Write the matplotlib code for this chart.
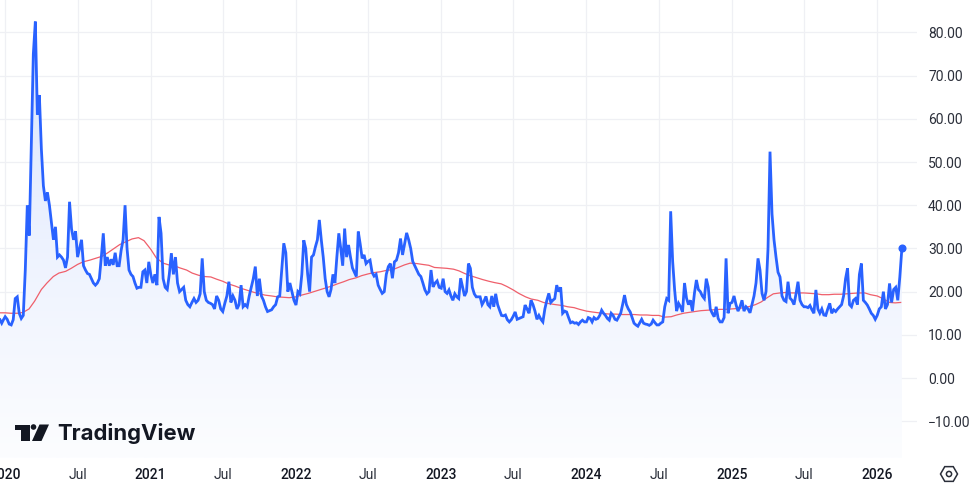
import numpy as np
import pandas as pd
import matplotlib
matplotlib.use("Agg")
import matplotlib.pyplot as plt
import matplotlib.dates as mdates
from matplotlib.colors import LinearSegmentedColormap
from matplotlib.patches import Polygon, Circle, RegularPolygon

plt.rcParams['font.family'] = ['Roboto', 'DejaVu Sans']

# blue line, one list per half year
v_2019 = [13.5, 12.7, 13.5]
v_2020a = [14.2, 13.6, 12.5, 12.3, 13.5, 18.4, 18.8, 15, 13.8, 14.5, 25, 40, 33, 54, 75, 82.5, 61, 65.5,
           53, 44.5, 41, 43, 40, 36, 32, 35, 28, 28.5, 28, 27.3, 25.5, 28, 40.8, 34.5, 32, 34]
v_2020b = [28, 30, 32, 26, 25, 24.2, 24, 23, 22, 21.5, 22, 23, 28, 33.5, 26, 28, 26, 27.5, 26.2,
           29, 26, 26, 29.5, 32, 40, 30, 25, 24, 23.5, 22, 20.8, 21, 21, 24.6, 25, 22, 26.9]
v_2021a = [24, 22, 24, 21.5, 37.3, 33.5, 23, 21, 20.5, 24, 28.9, 24, 28, 22, 20, 20.5, 21, 18, 17,
           16.5, 17.5, 18.4, 17.5, 18, 19.5, 27.7, 20, 18, 17.5, 17.3, 17, 16, 19, 18, 16]
v_2021b = [15.4, 17.3, 19, 22.3, 17.5, 19, 18, 16, 17, 21.5, 16.5, 17, 16.5, 19, 21, 23, 25.8, 19,
           23, 19, 18, 16.5, 15.4, 15.6, 15.8, 16.5, 17, 18.8, 19, 25, 31.2, 29, 20, 22, 20, 18]
v_2022a = [16.9, 20, 19.5, 24, 31.9, 30, 24, 20, 28, 28.5, 30.4, 32, 36.6, 32, 28, 23, 20, 18.8,
           20.5, 24, 22, 28, 33.5, 30, 26, 34.6, 28, 30.8, 28, 25.5, 24.5, 23.5, 33.9, 31, 27.7, 28.5, 26.5]
v_2022b = [27, 27.3, 24.5, 23.6, 24, 21.5, 20.5, 19.6, 20, 24, 25.8, 26.5, 23.1, 26.9, 27.3, 29, 32.3, 28.5,
           31, 33.6, 32, 30, 27, 26, 25, 24, 23.5, 22, 20.4, 19.5, 20, 25, 21.1, 22, 22.5, 21]
v_2023a = [20.8, 23, 20, 19.6, 20.4, 19, 18, 19.5, 18.8, 18.4, 23.1, 21, 19, 20, 26.5, 25.4, 21, 19.5, 18.8,
           18.8, 18.8, 17, 17.8, 18.9, 17, 16.5, 19, 16.5, 19.5, 17, 15.7, 14.5, 14.4, 14.6, 13.5, 13, 13.5]
v_2023b = [14.3, 15.3, 13.6, 13.8, 14, 14.2, 16.9, 16, 15, 18, 17, 15.5, 13.6, 14.5, 13.6, 13, 16, 18, 19.6,
           17.5, 18, 18.4, 21.5, 20, 21, 15, 15.5, 15.3, 14, 12.8, 13, 12.7, 12.8, 12.4, 13, 13.4, 13]
v_2024a = [13, 14, 13.8, 13, 14, 13.6, 13.8, 14.5, 15.7, 15, 14.5, 13.8, 13.4, 15, 14.5, 13.6, 13.4, 14.2, 15,
           17, 19.2, 17, 16, 15.3, 14, 12.7, 12.3, 12, 12.8, 13.6, 12.7, 12.5, 12.4, 12.2, 12.5, 13.4, 12.8, 12.3]
v_2024b = [12.3, 12.7, 13, 16.5, 18.4, 18, 38.6, 27, 20.4, 15.5, 17.3, 16.5, 15.3, 22, 18.5, 17, 18, 15.5, 19.6,
           22.7, 20.5, 20, 19, 18.4, 23, 21, 16, 15, 14.2, 16.5, 13.8, 13, 13, 14, 27.7, 15, 17.3]
v_2025a = [17.5, 19, 17, 15.5, 16.5, 18, 15.5, 16.5, 16, 15.1, 17, 19, 22, 27.7, 25, 19.6, 18, 20,
           30, 52.4, 38, 32, 28, 24.5, 23.4, 19, 18, 17.7, 22.3, 18.5, 18, 17, 19.5, 22.3, 18, 17]
v_2025b = [16.5, 16.5, 16.3, 16.8, 15.8, 15, 20.4, 16, 15, 16, 14.6, 14.5, 16, 17.3, 15, 15.8, 15.4, 16, 16.5,
           17, 19, 23, 25.4, 17, 16.5, 18, 18.4, 17, 24, 26.5, 18, 17.5, 16.9, 16, 15, 14.5, 13.6]
v_2026a = [14.5, 16, 16.5, 20, 16, 17, 21.9, 17.5, 20.5, 21, 18, 23.4, 30]

# red line, two values per month from Dec 2019
ma_halfmonths = [15.1, 15.1,
                 15.1, 15, 15, 15.2, 16, 17.8, 20.5, 22, 23.5, 24.3, 24.7, 25.4,
                 26.3, 26.9, 27.3, 27.7, 28.2, 29, 30, 30.9, 31.6, 32.2, 32.5, 31.8,
                 29.8, 27.8, 26.6, 26.2, 26, 25.5, 25, 24.3, 23.8, 23.5, 23.4, 22.9,
                 22.4, 21.8, 21.3, 20.8, 20.3, 19.9, 19.5, 19.2, 19, 18.8, 18.7, 18.6,
                 18.8, 19.2, 19.6, 20, 20.4, 20.8, 21.3, 21.8, 22.3, 22.8, 23.2, 23.7,
                 24.1, 24.4, 24.6, 24.9, 25.1, 25.6, 26.2, 26.6, 26.5, 26.3, 26.1, 25.6,
                 25.5, 25.4, 25.2, 24.8, 24.2, 23.7, 23.2, 22.8, 22.4, 22.1, 21.8, 21.2,
                 20.4, 19.6, 18.8, 18.3, 18, 17.5, 17.2, 17, 16.8, 16.5, 16.3, 15.9,
                 15.5, 15.3, 15.1, 14.9, 14.8, 14.8, 14.7, 14.7, 14.7, 14.6, 14.6, 14.5,
                 14.5, 14.1, 14.2, 14.6, 15, 15.2, 15.4, 15.6, 15.7, 15.8, 15.9, 15.9,
                 16, 16.1, 16.3, 16.6, 17, 17.6, 18.7, 19.5, 19.7, 19.8, 19.7, 19.7,
                 19.7, 19.6, 19.5, 19.3, 19.3, 19.4, 19.4, 19.5, 19.6, 19.7, 19.7, 19.3,
                 19, 18.4, 17.5, 17.4, 17.5]

y_ticks = [80, 70, 60, 50, 40, 30, 20, 10, 0, -10]
x_tick_dates = ['2020-01-01', '2020-07-01', '2021-01-01', '2021-07-01', '2022-01-01', '2022-07-01', '2023-01-01',
                '2023-07-01', '2024-01-01', '2024-07-01', '2025-01-01', '2025-07-01', '2026-01-01']
x_tick_labels = ['2020', 'Jul', '2021', 'Jul', '2022', 'Jul', '2023', 'Jul', '2024', 'Jul', '2025', 'Jul', '2026']

segments = [v_2019, v_2020a, v_2020b, v_2021a, v_2021b, v_2022a, v_2022b, v_2023a, v_2023b,
            v_2024a, v_2024b, v_2025a, v_2025b, v_2026a]
edges = mdates.date2num(pd.to_datetime(['2019-12-19'] + x_tick_dates + ['2026-03-04']))
x = np.concatenate([np.linspace(edges[i], edges[i + 1], len(s), endpoint=(i == len(segments) - 1))
                    for i, s in enumerate(segments)])
y = np.concatenate([np.array(s, dtype=float) for s in segments])
x_ma = mdates.date2num(pd.date_range('2019-12-01', periods=len(ma_halfmonths), freq='SMS'))

W, H = 975, 486
fig = plt.figure(figsize=(W / 100, H / 100), dpi=100, facecolor='white')
ax = fig.add_axes([0, 28 / H, 917 / W, 458 / H])
xlim = mdates.date2num(pd.to_datetime(['2019-12-19', '2026-04-11']))
ylim = (-18.5, 87.5)

# area under the line, gradient going pale towards the bottom
cmap = LinearSegmentedColormap.from_list('area', ['#d6e2fe', '#edf2fe', '#fcfdff'])
grad = np.linspace(0, 1, 256).reshape(-1, 1)
im = ax.imshow(grad, extent=[x[0], x[-1], ylim[0], 83], aspect='auto', cmap=cmap, origin='upper', zorder=1)
poly = Polygon(np.vstack([np.column_stack([x, y]), [x[-1], ylim[0]], [x[0], ylim[0]]]),
               transform=ax.transData, facecolor='none', edgecolor='none')
ax.add_patch(poly)
im.set_clip_path(poly)

ax.plot(x_ma, ma_halfmonths, color='#ef5f6b', lw=0.9, zorder=3)
ax.plot(x, y, color='#2962ff', lw=2.0, zorder=4, solid_joinstyle='miter')
ax.plot(x[-1], y[-1], 'o', color='#2962ff', ms=4.8, zorder=5)

ax.set_xlim(xlim)
ax.set_ylim(ylim)
ax.grid(True, color='#eff0f4', lw=0.9, zorder=0)
ax.set_axisbelow(True)
for s in ax.spines.values():
    s.set_visible(False)

ax.yaxis.tick_right()
ax.set_yticks(y_ticks)
ax.set_yticklabels([f'{v:.2f}'.replace('-', '\u2212') for v in y_ticks])
ax.set_xticks(mdates.date2num(pd.to_datetime(x_tick_dates)))
ax.set_xticklabels(x_tick_labels)
ax.tick_params(axis='y', length=0, pad=8, labelsize=10, labelcolor='#2a2e39')
ax.tick_params(axis='x', length=0, pad=7.5, labelsize=10, labelcolor='#2a2e39')
for lab in ax.get_xticklabels():
    if lab.get_text() != 'Jul':
        lab.set_fontweight('medium')
        lab.set_color('#131722')

# logo and settings icon, on a pixel overlay
ov = fig.add_axes([0, 0, 1, 1], facecolor='none')
ov.set_xlim(0, W)
ov.set_ylim(H, 0)
ov.axis('off')
logo = '#131722'
ov.add_patch(Polygon([(15, 424.5), (29.5, 424.5), (29.5, 441), (21, 441), (21, 430), (15, 430)], color=logo, lw=0))
ov.add_patch(Circle((33.5, 427), 2.8, color=logo, lw=0))
ov.add_patch(Polygon([(39.5, 424.5), (49, 424.5), (41.5, 441), (32, 441)], color=logo, lw=0))
ov.text(57, 433, 'TradingView', fontsize=15.9, family='Inter', weight='bold', color=logo, va='center', ha='left')
ov.add_patch(RegularPolygon((949, 474), 6, radius=8.5, orientation=np.pi / 6, fill=False, ec='#2a2e39', lw=1.1))
ov.add_patch(Circle((949, 474), 2.6, fill=False, ec='#2a2e39', lw=1.1))

fig.savefig('out.png', dpi=100)
